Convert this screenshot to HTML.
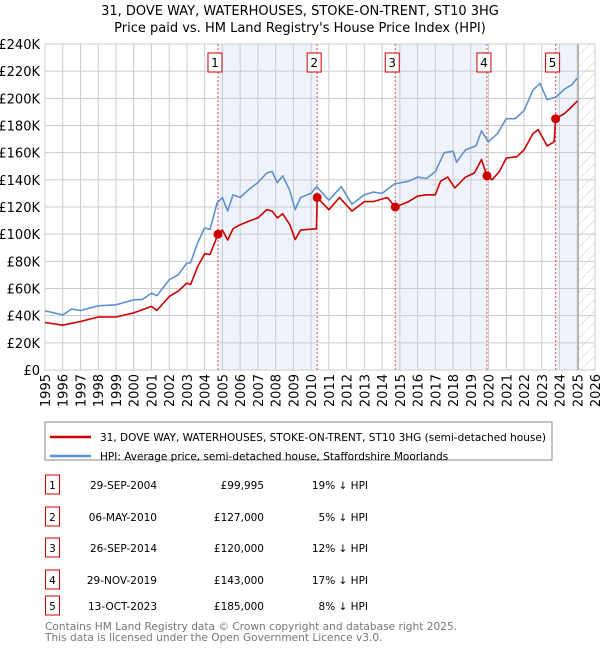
<!DOCTYPE html>
<html><head><meta charset="utf-8"><style>
body{margin:0;background:#fff;font-family:"DejaVu Sans","Liberation Sans",sans-serif;}
svg text{font-family:"DejaVu Sans","Liberation Sans",sans-serif;}
</style></head><body>
<svg id="c" width="600" height="650" xmlns="http://www.w3.org/2000/svg">
<defs><pattern id="hatch" width="8" height="8" patternUnits="userSpaceOnUse" patternTransform="rotate(45)"><line x1="0" y1="0" x2="0" y2="8" stroke="#ccc" stroke-width="1"/></pattern></defs>
<text x="300" y="15" text-anchor="middle" font-size="13">31, DOVE WAY, WATERHOUSES, STOKE-ON-TRENT, ST10 3HG</text>
<text x="300" y="32" text-anchor="middle" font-size="13">Price paid vs. HM Land Registry's House Price Index (HPI)</text>
<g id="plot"></g>
<rect x="45" y="422" width="507" height="38" fill="#fff" stroke="#888"/>
<line x1="50" y1="437" x2="91" y2="437" stroke="#cc0000" stroke-width="2.5"/>
<text x="100" y="441" font-size="10.5">31, DOVE WAY, WATERHOUSES, STOKE-ON-TRENT, ST10 3HG (semi-detached house)</text>
<line x1="50" y1="456" x2="91" y2="456" stroke="#6090d0" stroke-width="2.5"/>
<text x="100" y="460" font-size="10.5">HPI: Average price, semi-detached house, Staffordshire Moorlands</text>
<g id="table"></g>
<text x="45" y="630" font-size="10.6" fill="#777">Contains HM Land Registry data © Crown copyright and database right 2025.</text>
<text x="45" y="641" font-size="10.6" fill="#777">This data is licensed under the Open Government Licence v3.0.</text>
</svg>
<script>
const hpiYears=[1995,1996,1996.5,1997,1998,1999,2000,2000.5,2001,2001.3,2002,2002.5,2003,2003.2,2003.6,2004,2004.3,2004.7,2005,2005.3,2005.6,2006,2006.5,2007,2007.5,2007.8,2008.1,2008.4,2008.8,2009.1,2009.4,2010,2010.3,2011,2011.7,2012.3,2013,2013.5,2014,2014.7,2015.5,2016,2016.5,2017,2017.5,2018,2018.2,2018.7,2019.3,2019.6,2020,2020.5,2021,2021.5,2022,2022.5,2022.9,2023.3,2023.8,2024.3,2024.7,2025];
const hpiValues=[43.6,40.6,44.8,43.8,47.3,48,51.7,52,56.6,54.7,66.5,70,78.8,78.8,93.6,104.7,103.4,123,127,117,129,127,133,138,145,146,138,143,132,118,127,130,135,125,135,122,129,131,130,137,139,142,141,146,160,161,153,162,165,176,168,174,185,185,191,206,211,199,201,207,210,215];
const propYears=[1995,1996,1997,1998,1999,2000,2001,2001.3,2002,2002.5,2003,2003.2,2003.6,2004,2004.3,2004.75,2005,2005.3,2005.6,2006,2006.5,2007,2007.5,2007.8,2008.1,2008.4,2008.8,2009.1,2009.4,2010.3,2010.34,2011,2011.6,2012.3,2013,2013.5,2014.3,2014.74,2015.5,2016,2016.5,2017,2017.3,2017.7,2018.1,2018.7,2019.2,2019.6,2019.9,2020.2,2020.6,2021,2021.6,2022,2022.5,2022.8,2023.3,2023.7,2023.78,2024.3,2024.7,2025];
const propValues=[35,33,35.7,39,39,42,46.8,43.8,54,58,64,62.8,76,85.7,85,100,103,95.6,104,107,109.6,112,118,117,112,115,107,96,103,104,127,118,127,117,124,124,127,120,124,128,129,129,139,142,134,142,145,155,143,140,146,156,157,162,174,177,165,168,185,189,194,198];
const saleYears=[2004.75,2010.34,2014.74,2019.91,2023.78];
const salePrices=[99.995,127,120,143,185];
const saleDates=["29-SEP-2004","06-MAY-2010","26-SEP-2014","29-NOV-2019","13-OCT-2023"];
const salePriceLabels=["£99,995","£127,000","£120,000","£143,000","£185,000"];
const saleHpiLabels=["19% ↓ HPI","5% ↓ HPI","12% ↓ HPI","17% ↓ HPI","8% ↓ HPI"];
const yTicks=[0,20,40,60,80,100,120,140,160,180,200,220,240];
const xTicks=[1995,1996,1997,1998,1999,2000,2001,2002,2003,2004,2005,2006,2007,2008,2009,2010,2011,2012,2013,2014,2015,2016,2017,2018,2019,2020,2021,2022,2023,2024,2025,2026];

const X0=45,X1=595,Y0=370,Y1=44;
const xs=y=>X0+(y-1995)/31*(X1-X0);
const ys=v=>Y0-v/240*(Y0-Y1);
const NS="http://www.w3.org/2000/svg";
const plot=document.getElementById('plot');
function mk(tag,attrs,parent){const e=document.createElementNS(NS,tag);for(const k in attrs)e.setAttribute(k,attrs[k]);(parent||plot).appendChild(e);return e;}

for(let i=0;i<saleYears.length;i+=2){
  const end=i+1<saleYears.length?saleYears[i+1]:2025.05;
  const r=mk('rect',{x:xs(saleYears[i]),y:Y1,width:xs(end)-xs(saleYears[i]),height:Y0-Y1,fill:'#eef3fc'});
  
  
}
const h=mk('rect',{x:xs(2025.05),y:Y1,width:X1-xs(2025.05),height:Y0-Y1,fill:'url(#hatch)'});


yTicks.forEach(v=>{
  const l=mk('line',{x1:X0,x2:X1,y1:ys(v),y2:ys(v),stroke:'#ccc','stroke-width':1});
  
  
  const t=mk('text',{x:40,y:ys(v)+5,'text-anchor':'end','font-size':13});
  t.textContent='£'+v+(v?'K':'');
  
  
});
xTicks.forEach(yr=>{
  const l=mk('line',{x1:xs(yr),x2:xs(yr),y1:Y1,y2:Y0,stroke:'#ccc','stroke-width':1});
  
  
  const t=mk('text',{x:0,y:0,'text-anchor':'end','font-size':13,transform:`translate(${xs(yr)+5},374) rotate(-90)`});
  t.textContent=yr;
  
  
});
const fr=mk('rect',{x:X0,y:Y1,width:X1-X0,height:Y0-Y1,fill:'none',stroke:'#ccc'});


const nl=mk('line',{x1:xs(2025.05),x2:xs(2025.05),y1:Y1,y2:Y0,stroke:'#999','stroke-width':1.2});


saleYears.forEach((yr,i)=>{
  const l=mk('line',{x1:xs(yr),x2:xs(yr),y1:Y1,y2:Y0,stroke:'#e05050','stroke-width':1,'stroke-dasharray':'2,2'});
  
  
  const b=mk('rect',{x:xs(yr)-10,y:53,width:14,height:19,fill:'#fff',stroke:'#cc0000'});
  
  
  const t=mk('text',{x:xs(yr)-3,y:67,'text-anchor':'middle','font-size':12});
  t.textContent=i+1;
  
  
});
function path(xa,va,color,name){
  const d=xa.map((x,i)=>(i?'L':'M')+xs(x).toFixed(1)+','+ys(va[i]).toFixed(1)).join(' ');
  const p=mk('path',{d:d,fill:'none',stroke:color,'stroke-width':1.6,'stroke-linejoin':'round'});
  
  
}
path(hpiYears,hpiValues,'#6090d0','hpi-line');
path(propYears,propValues,'#cc0000','property-price-line');
saleYears.forEach((yr,i)=>{
  const c=mk('circle',{cx:xs(yr),cy:ys(salePrices[i]),r:4.5,fill:'#cc0000'});
  
  
});
const tbl=document.getElementById('table');
const rowY=[486,518,549,581,607];
saleYears.forEach((yr,i)=>{
  const y=rowY[i];
  const b=mk('rect',{x:45.5,y:y-11,width:14,height:19,fill:'#fff',stroke:'#cc0000'},tbl);
  
  
  const cells=[[52.5,'middle',String(i+1),'sale-row-number'],[157,'end',saleDates[i],'sale-row-date'],[264,'end',salePriceLabels[i],'sale-row-price'],[368,'end',saleHpiLabels[i],'sale-row-hpi-diff']];
  cells.forEach(c=>{
    const t=mk('text',{x:c[0],y:y+3,'text-anchor':c[1],'font-size':10.5},tbl);
    t.textContent=c[2];
    
    
  });
});
</script>
</body></html>
